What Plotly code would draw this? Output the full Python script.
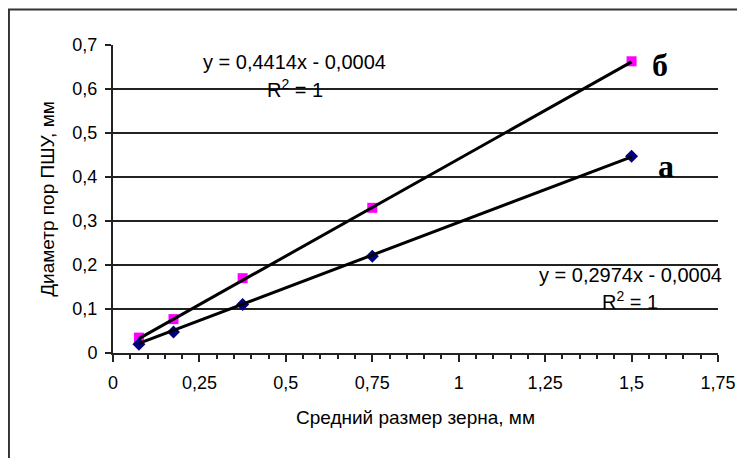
import plotly.graph_objects as go
import numpy as np

# Data
grain_size = [0.075, 0.175, 0.375, 0.75, 1.5]
pore_a = [0.02, 0.048, 0.11, 0.22, 0.447]
pore_b = [0.035, 0.077, 0.17, 0.33, 0.663]
trend_a = (0.2974, -0.0004)
trend_b = (0.4414, -0.0004)
x_ticks = [0, 0.25, 0.5, 0.75, 1, 1.25, 1.5, 1.75]
x_tick_labels = ["0", "0,25", "0,5", "0,75", "1", "1,25", "1,5", "1,75"]
y_ticks = [0, 0.1, 0.2, 0.3, 0.4, 0.5, 0.6, 0.7]
y_tick_labels = ["0", "0,1", "0,2", "0,3", "0,4", "0,5", "0,6", "0,7"]

FONT = "Liberation Sans, Arial, sans-serif"

fig = go.Figure()
fig.add_trace(go.Scatter(x=grain_size, y=pore_b, mode="markers",
                         marker=dict(symbol="square", size=10, color="#FF00FF"),
                         showlegend=False, cliponaxis=False))
fig.add_trace(go.Scatter(x=grain_size, y=pore_a, mode="markers",
                         marker=dict(symbol="diamond", size=10, color="#000080"),
                         showlegend=False, cliponaxis=False))

xs = np.array([grain_size[0], grain_size[-1]])
for k, b in (trend_b, trend_a):
    fig.add_trace(go.Scatter(x=xs, y=k * xs + b, mode="lines",
                             line=dict(color="black", width=3),
                             showlegend=False))

fig.update_layout(
    width=737, height=450,
    margin=dict(l=105, r=27, t=37, b=105),
    paper_bgcolor="white", plot_bgcolor="white",
    font=dict(family=FONT, size=18, color="black"),
    xaxis=dict(range=[0, 1.75], tickvals=x_ticks, ticktext=x_tick_labels,
               automargin=False,
               showgrid=False, zeroline=False,
               showline=True, linecolor="#222", linewidth=2,
               ticks="outside", ticklen=7, tickwidth=2, tickcolor="#222",
               minor=dict(dtick=0.05, tick0=0, ticks="outside", ticklen=4,
                          tickwidth=1.5, tickcolor="#222", showgrid=False),
               ticklabelstandoff=5,
               title=dict(text="Средний размер зерна, мм", standoff=19,
                          font=dict(size=19))),
    yaxis=dict(range=[0, 0.7], tickvals=y_ticks, ticktext=y_tick_labels,
               automargin=False,
               showgrid=True, gridcolor="#222", gridwidth=2,
               zeroline=False,
               showline=True, linecolor="#222", linewidth=2,
               ticks="outside", ticklen=6, tickwidth=2, tickcolor="#222",
               ticklabelstandoff=4,
               title=dict(text="Диаметр пор ПШУ, мм", standoff=13,
                          font=dict(size=19))),
)

# outer chart border
fig.add_shape(type="rect", xref="paper", yref="paper",
              x0=-0.172, y0=-0.6, x1=1.2, y1=1.115,
              line=dict(color="#333", width=2), fillcolor="rgba(0,0,0,0)",
              layer="below")

ann = [
    dict(x=0.526, y=0.661, text="y = 0,4414x - 0,0004"),
    dict(x=0.526, y=0.602, text="R<sup>2</sup> = 1"),
    dict(x=1.496, y=0.177, text="y = 0,2974x - 0,0004"),
    dict(x=1.496, y=0.120, text="R<sup>2</sup> = 1"),
]
for a in ann:
    fig.add_annotation(xref="x", yref="y", showarrow=False,
                       font=dict(family=FONT, size=20, color="black"), **a)

for x, y, t in ((1.582, 0.655, "б"), (1.60, 0.425, "а")):
    fig.add_annotation(x=x, y=y, xref="x", yref="y", text=t, showarrow=False,
                       font=dict(family="Liberation Serif, Times New Roman, serif",
                                 size=32, color="black", weight="bold"))

fig.write_html("out.html")
